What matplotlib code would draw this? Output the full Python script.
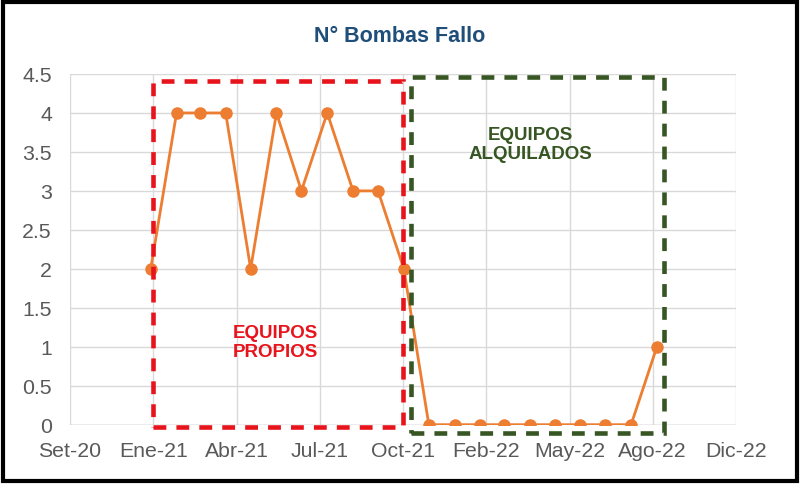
import pandas as pd
import matplotlib
matplotlib.use("Agg")
import matplotlib.pyplot as plt
from matplotlib.patches import Rectangle

plt.rcParams['font.family'] = ['Liberation Sans', 'DejaVu Sans']

# datos: fallas mensuales de bombas
meses = pd.date_range('2021-01-01', periods=21, freq='MS')
fallas = [2, 4, 4, 4, 2, 4, 3, 4, 3, 3, 2, 0, 0, 0, 0, 0, 0, 0, 0, 0, 1]

# eje de fechas de Excel: inicio 26-sep-2020, unidad mayor 100 dias
eje_inicio = pd.Timestamp('2020-09-26')
etiquetas_x = ['Set-20', 'Ene-21', 'Abr-21', 'Jul-21', 'Oct-21',
               'Feb-22', 'May-22', 'Ago-22', 'Dic-22']
ticks_x = [eje_inicio + pd.Timedelta(days=100 * i) for i in range(len(etiquetas_x))]
ticks_y = [0, 0.5, 1, 1.5, 2, 2.5, 3, 3.5, 4, 4.5]
etiquetas_y = ['0', '0.5', '1', '1.5', '2', '2.5', '3', '3.5', '4', '4.5']

naranja = '#ED7D31'
gris = '#595959'

fig = plt.figure(figsize=(8, 4.85), dpi=100)
ax = fig.add_axes([0.0875, 0.1223, 0.8325, 0.7231])

ax.plot(meses, fallas, color=naranja, lw=2.0, marker='o', markersize=8, zorder=3)

ax.set_xlim(ticks_x[0], ticks_x[-1])
ax.set_ylim(0, 4.5)
ax.set_xticks(ticks_x)
ax.set_xticklabels(etiquetas_x)
ax.set_yticks(ticks_y)
ax.set_yticklabels(etiquetas_y)
ax.tick_params(axis='both', length=0, labelsize=15.3, colors=gris)
ax.tick_params(axis='y', pad=13)
ax.tick_params(axis='x', pad=12)
ax.grid(True, color='#D9D9D9', lw=1.0)
ax.set_axisbelow(True)
for s in ax.spines.values():
    s.set_visible(False)
ax.axhline(0, color='#BFBFBF', lw=1.0, zorder=1)

# recuadros de equipos propios / alquilados
dias = lambda d: eje_inicio + pd.Timedelta(days=d)
x0 = matplotlib.dates.date2num(ticks_x[1])
x1 = matplotlib.dates.date2num(ticks_x[4])
ax.add_patch(Rectangle((x0, -0.03), x1 - x0, 4.44, fill=False, ec='#E8141C',
                       lw=3.3, ls=(0, (2.8, 2.2)), clip_on=False, zorder=4))
g0 = matplotlib.dates.date2num(dias(410))
g1 = matplotlib.dates.date2num(dias(713))
ax.add_patch(Rectangle((g0, -0.11), g1 - g0, 4.57, fill=False, ec='#375623',
                       lw=3.3, ls=(0, (2.8, 2.2)), clip_on=False, zorder=4))

ax.text(dias(247), 1.06, 'EQUIPOS\nPROPIOS', color='#E8141C', fontsize=13.5,
        fontweight='bold', ha='center', va='center', linespacing=1.15)
ax.text(dias(553), 3.6, 'EQUIPOS\nALQUILADOS', color='#375623', fontsize=13.5,
        fontweight='bold', ha='center', va='center', linespacing=1.15)

fig.text(0.5, 1 - 36.7 / 485, 'N° Bombas Fallo', color='#1F4E79', fontsize=15.5,
         fontweight='bold', ha='center', va='center')

# marco negro exterior
fig.patches.append(Rectangle((3 / 800, 3 / 485), 794 / 800, 479 / 485, fill=False,
                             ec='black', lw=3, transform=fig.transFigure))

fig.savefig('out.png', dpi=100)
